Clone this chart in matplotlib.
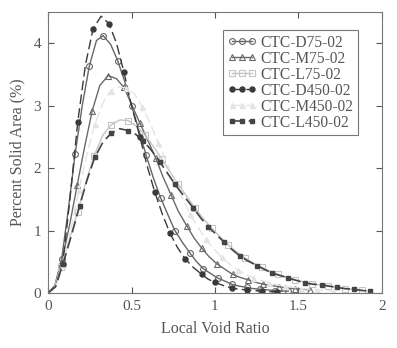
import numpy as np
import matplotlib
matplotlib.use("Agg")
import matplotlib.pyplot as plt

plt.rcParams["font.family"] = ["Liberation Serif", "DejaVu Serif"]

# curve data (every second point carries a marker)
d75_x = [0, 0.041, 0.082, 0.122, 0.162, 0.205, 0.247, 0.29, 0.33, 0.375, 0.417, 0.46, 0.50, 0.545,
         0.587, 0.63, 0.675, 0.72, 0.76, 0.805, 0.85, 0.89, 0.93, 0.975, 1.016, 1.06, 1.10, 1.145,
         1.19, 1.23, 1.27, 1.315, 1.36, 1.40, 1.44]
d75_y = [0, 0.12, 0.55, 1.35, 2.22, 3.00, 3.63, 4.04, 4.12, 3.98, 3.72, 3.38, 3.00, 2.60,
         2.21, 1.85, 1.52, 1.24, 1.00, 0.81, 0.64, 0.50, 0.39, 0.31, 0.24, 0.19, 0.14, 0.11,
         0.09, 0.07, 0.06, 0.05, 0.04, 0.03, 0.03]

m75_x = [0, 0.04, 0.083, 0.13, 0.175, 0.22, 0.265, 0.31, 0.36, 0.41, 0.455, 0.50, 0.55, 0.60,
         0.645, 0.69, 0.737, 0.78, 0.83, 0.875, 0.92, 0.965, 1.01, 1.06, 1.105, 1.15, 1.20, 1.245,
         1.29, 1.34, 1.385, 1.43, 1.48, 1.525, 1.57]
m75_y = [0, 0.11, 0.52, 1.10, 1.73, 2.35, 2.92, 3.32, 3.48, 3.43, 3.29, 3.02, 2.72, 2.43,
         2.16, 1.85, 1.57, 1.31, 1.08, 0.88, 0.72, 0.58, 0.47, 0.38, 0.30, 0.25, 0.21, 0.17,
         0.14, 0.12, 0.10, 0.08, 0.07, 0.06, 0.05]

l75_x = [0, 0.038, 0.077, 0.127, 0.177, 0.227, 0.277, 0.327, 0.377, 0.43, 0.48, 0.53, 0.58, 0.63,
         0.68, 0.73, 0.78, 0.83, 0.88, 0.93, 0.98, 1.03, 1.08, 1.13, 1.18, 1.23, 1.28, 1.33,
         1.38, 1.43, 1.48, 1.53, 1.58, 1.63, 1.68, 1.73, 1.78, 1.83, 1.88]
l75_y = [0, 0.09, 0.42, 0.85, 1.30, 1.78, 2.20, 2.52, 2.69, 2.77, 2.76, 2.67, 2.53, 2.35,
         2.15, 1.94, 1.74, 1.55, 1.36, 1.19, 1.04, 0.90, 0.77, 0.66, 0.56, 0.48, 0.41, 0.35,
         0.30, 0.25, 0.21, 0.18, 0.15, 0.13, 0.11, 0.09, 0.07, 0.06, 0.05]

d450_x = [0, 0.044, 0.088, 0.133, 0.178, 0.224, 0.27, 0.318, 0.365, 0.41, 0.455, 0.50, 0.55,
          0.595, 0.64, 0.685, 0.73, 0.775, 0.82, 0.87, 0.92, 0.96, 1.0, 1.05, 1.10, 1.145,
          1.19, 1.235, 1.28, 1.325, 1.37]
d450_y = [0, 0.10, 0.47, 1.55, 2.74, 3.65, 4.23, 4.43, 4.31, 4.00, 3.53, 3.00, 2.50,
          2.02, 1.61, 1.26, 0.96, 0.73, 0.55, 0.41, 0.30, 0.22, 0.17, 0.12, 0.08, 0.06,
          0.05, 0.04, 0.03, 0.02, 0.02]

m450_x = [0, 0.045, 0.09, 0.14, 0.185, 0.235, 0.28, 0.33, 0.375, 0.425, 0.47, 0.52, 0.565,
          0.615, 0.66, 0.71, 0.755, 0.805, 0.85, 0.90, 0.945, 0.995, 1.04, 1.09, 1.135, 1.185,
          1.23, 1.28, 1.325, 1.375, 1.42, 1.47, 1.515, 1.565, 1.61, 1.66, 1.705]
m450_y = [0, 0.10, 0.45, 1.05, 1.65, 2.25, 2.70, 3.05, 3.24, 3.30, 3.28, 3.18, 2.98,
          2.70, 2.40, 2.10, 1.80, 1.52, 1.27, 1.05, 0.86, 0.70, 0.57, 0.46, 0.37, 0.30,
          0.24, 0.20, 0.16, 0.13, 0.11, 0.09, 0.07, 0.06, 0.05, 0.04, 0.03]

l450_x = [0, 0.045, 0.09, 0.14, 0.19, 0.235, 0.28, 0.33, 0.38, 0.43, 0.48, 0.525, 0.57, 0.62,
          0.67, 0.715, 0.76, 0.815, 0.87, 0.915, 0.96, 1.01, 1.056, 1.10, 1.15, 1.20, 1.25,
          1.295, 1.34, 1.39, 1.44, 1.49, 1.54, 1.59, 1.64, 1.685, 1.73, 1.78, 1.83, 1.88, 1.93]
l450_y = [0, 0.10, 0.47, 0.92, 1.40, 1.82, 2.17, 2.42, 2.56, 2.63, 2.60, 2.54, 2.44, 2.28,
          2.10, 1.92, 1.74, 1.55, 1.36, 1.20, 1.06, 0.93, 0.81, 0.70, 0.59, 0.51, 0.44,
          0.38, 0.32, 0.28, 0.24, 0.20, 0.16, 0.14, 0.13, 0.11, 0.09, 0.07, 0.06, 0.04, 0.03]

labels = ["CTC-D75-02", "CTC-M75-02", "CTC-L75-02", "CTC-D450-02", "CTC-M450-02", "CTC-L450-02"]

txt = "#555555"
fig = plt.figure(figsize=(3.97, 3.48), dpi=100)
ax = fig.add_axes([0.121, 0.158, 0.841, 0.808])

ms = 4.2
ax.plot(d75_x, d75_y, "-", color="#666666", lw=1, marker="o", mfc="none", ms=ms, mew=0.8,
        markevery=(2, 2), label=labels[0])
ax.plot(m75_x, m75_y, "-", color="#6a6a6a", lw=1, marker="^", mfc="none", ms=ms, mew=0.8,
        markevery=(2, 2), label=labels[1])
ax.plot(l75_x, l75_y, "-", color="#c4c4c4", lw=1, marker="s", mfc="none", ms=ms, mew=0.8,
        markevery=(2, 2), label=labels[2])
ax.plot(d450_x, d450_y, "--", color="#3a3a3a", lw=1, dashes=(7, 3), marker="o", ms=3.6,
        markevery=(2, 2), label=labels[3])
ax.plot(m450_x, m450_y, "--", color="#e4e4e4", lw=1, dashes=(7, 3), marker="^", ms=3.6,
        markevery=(2, 2), label=labels[4])
ax.plot(l450_x, l450_y, "--", color="#444444", lw=1.2, dashes=(7, 3), marker="s", ms=3.4,
        markevery=(2, 2), label=labels[5])

ax.set_xlim(0, 2)
ax.set_ylim(0, 4.5)
ax.set_xticks([0, 0.5, 1, 1.5, 2])
ax.set_xticklabels(["0", "0.5", "1", "1.5", "2"])
ax.set_yticks([0, 1, 2, 3, 4])
ax.tick_params(direction="in", top=True, right=True, length=4, colors=txt,
               labelsize=11, pad=5)
for s in ax.spines.values():
    s.set_color("#777777")
    s.set_linewidth(0.8)

ax.set_xlabel("Local Void Ratio", fontsize=11.5, color=txt, labelpad=6)
ax.set_ylabel("Percent Solid Area (%)", fontsize=11.5, color=txt, labelpad=6)

leg = ax.legend(loc="upper right", bbox_to_anchor=(0.928, 0.935), numpoints=3,
                fontsize=11.2, frameon=True, fancybox=False, handlelength=1.9,
                handletextpad=0.2, borderpad=0.3, labelspacing=0.0, borderaxespad=0)
leg.get_frame().set_edgecolor("#555555")
leg.get_frame().set_linewidth(0.8)
for t in leg.get_texts():
    t.set_color(txt)

fig.savefig("out.png", dpi=100)
